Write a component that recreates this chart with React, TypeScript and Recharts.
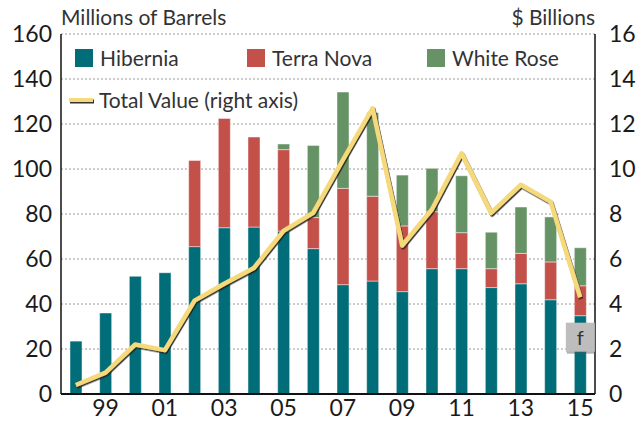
import { ComposedChart, Bar, Line, XAxis, YAxis, CartesianGrid, LabelList } from 'recharts'

const years = ['1998', '1999', '2000', '2001', '2002', '2003', '2004', '2005', '2006', '2007', '2008', '2009', '2010', '2011', '2012', '2013', '2014', '2015']
const xLabels = ['', '99', '', '01', '', '03', '', '05', '', '07', '', '09', '', '11', '', '13', '', '15']
const hibernia = [23.5, 36, 52.3, 53.9, 65.5, 73.9, 74.2, 72.4, 64.6, 48.6, 50.2, 45.5, 55.7, 55.7, 47.3, 49, 41.9, 34.8]
const terraNova = [0, 0, 0, 0, 38.3, 48.6, 40, 36.2, 13.8, 42.8, 37.7, 29.2, 25.3, 16, 8.4, 13.5, 16.8, 13.3]
const whiteRose = [0, 0, 0, 0, 0, 0, 0, 2.5, 32.1, 42.8, 37.1, 22.6, 19.3, 25.3, 16.2, 20.6, 20, 16.9]
const totalValue = [0.4, 0.95, 2.2, 1.95, 4.15, 4.9, 5.6, 7.25, 8.05, 10.4, 12.7, 6.6, 8.2, 10.7, 8.05, 9.3, 8.55, 4.3]
const forecast = ['', '', '', '', '', '', '', '', '', '', '', '', '', '', '', '', '', 'f']

const leftTicks = [0, 20, 40, 60, 80, 100, 120, 140, 160]
const rightTicks = [0, 2, 4, 6, 8, 10, 12, 14, 16]

const data = years.map((y, i) => ({
  year: y,
  label: xLabels[i],
  hibernia: hibernia[i],
  terraNova: terraNova[i],
  whiteRose: whiteRose[i],
  value: totalValue[i],
  note: forecast[i],
}))

const FONT = 'Lato, "Open Sans", sans-serif'
const TEAL = '#006d78'
const RED = '#c4504a'
const GREEN = '#669366'
const YELLOW = '#f5d97a'

// grey "f" box hung under the top of the last Hibernia bar
function NoteBox(props: any) {
  const { x, y, width, value } = props
  if (!value) return null
  const cx = x + width / 2 + 0.5
  return (
    <g>
      <rect x={cx - 14} y={y + 9} width={29} height={29} fill="#555" opacity={0.45} />
      <rect x={cx - 15} y={y + 7} width={29} height={29} fill="#bdbdbd" />
      <text x={cx - 0.5} y={y + 29} textAnchor="middle" fontSize={20} fill="#333" fontFamily={FONT}>{value}</text>
    </g>
  )
}

function LegendItem({ color, label, left }: { color: string; label: string; left: number }) {
  return (
    <div style={{ position: 'absolute', left, top: 49, display: 'flex', alignItems: 'center' }}>
      <div style={{ width: 18, height: 18, background: color }} />
      <span style={{ marginLeft: 7, fontSize: 21, color: '#333', lineHeight: '18px' }}>{label}</span>
    </div>
  )
}

export default function App() {
  return (
    <div style={{ position: 'absolute', left: 0, top: 0, width: 640, height: 421, background: '#fff', fontFamily: FONT }}>
      <ComposedChart width={640} height={421} data={data} margin={{ top: 34, right: 0, bottom: 0, left: 0 }}>
        <defs>
          <filter id="lineShadow" x="-5%" y="-5%" width="110%" height="110%">
            <feDropShadow dx={1} dy={1.5} stdDeviation={0.4} floodColor="#1a1a1a" floodOpacity={0.9} />
          </filter>
        </defs>
        <CartesianGrid vertical={false} stroke="#9a9a9a" strokeDasharray="2 2" yAxisId="left" />
        <XAxis
          dataKey="year"
          interval={0}
          tickFormatter={(v: string, i: number) => xLabels[i]}
          tickLine={false}
          tickSize={0}
          tickMargin={6}
          height={27}
          axisLine={{ stroke: '#111', strokeWidth: 2 }}
          tick={{ fontSize: 23, fill: '#1a1a1a', fontFamily: FONT }}
        />
        <YAxis
          yAxisId="left"
          domain={[0, 160]}
          ticks={leftTicks}
          width={61}
          tickLine={false}
          tickSize={0}
          tickMargin={9}
          axisLine={{ stroke: '#111', strokeWidth: 1.5 }}
          tick={{ fontSize: 23, fill: '#1a1a1a', fontFamily: FONT }}
        />
        <YAxis
          yAxisId="right"
          orientation="right"
          domain={[0, 16]}
          ticks={rightTicks}
          width={45}
          tickLine={false}
          tickSize={0}
          tickMargin={14}
          axisLine={{ stroke: '#111', strokeWidth: 1.5 }}
          tick={{ fontSize: 23, fill: '#1a1a1a', fontFamily: FONT, textAnchor: 'start' }}
        />
        <Bar yAxisId="left" dataKey="hibernia" stackId="a" fill={TEAL} barSize={12} stroke="#fff" strokeOpacity={0.45} strokeWidth={1} isAnimationActive={false}>
          <LabelList dataKey="note" content={NoteBox} />
        </Bar>
        <Bar yAxisId="left" dataKey="terraNova" stackId="a" fill={RED} barSize={12} stroke="#fff" strokeOpacity={0.45} strokeWidth={1} isAnimationActive={false} />
        <Bar yAxisId="left" dataKey="whiteRose" stackId="a" fill={GREEN} barSize={12} stroke="#fff" strokeOpacity={0.45} strokeWidth={1} isAnimationActive={false} />
        <Line
          yAxisId="right"
          dataKey="value"
          type="linear"
          stroke={YELLOW}
          strokeWidth={4.5}
          strokeLinejoin="round"
          dot={false}
          activeDot={false}
          filter="url(#lineShadow)"
          isAnimationActive={false}
        />
      </ComposedChart>

      <div style={{ position: 'absolute', left: 61, top: 4, fontSize: 21, color: '#333' }}>Millions of Barrels</div>
      <div style={{ position: 'absolute', right: 45, top: 4, fontSize: 21, color: '#333' }}>$ Billions</div>

      <LegendItem color={TEAL} label="Hibernia" left={75} />
      <LegendItem color={RED} label="Terra Nova" left={247} />
      <LegendItem color={GREEN} label="White Rose" left={427} />
      <div style={{ position: 'absolute', left: 69, top: 90, display: 'flex', alignItems: 'center' }}>
        <div style={{ width: 24, height: 4, background: YELLOW, boxShadow: '1px 1.5px 0 #333' }} />
        <span style={{ marginLeft: 6, fontSize: 21, color: '#333', lineHeight: '20px' }}>Total Value (right axis)</span>
      </div>
    </div>
  )
}
